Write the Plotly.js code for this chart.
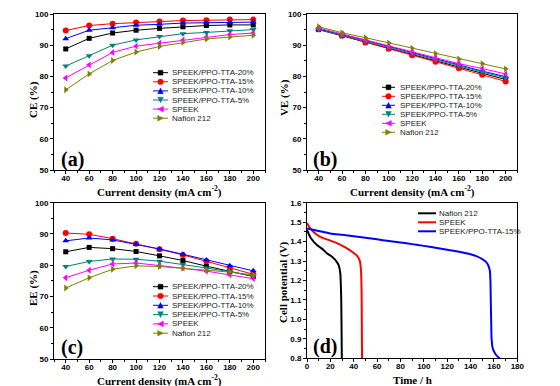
<!DOCTYPE html>
<html>
<head>
<meta charset="utf-8">
<script src="https://cdn.plot.ly/plotly-3.0.1.min.js"></script>
<style>html,body{margin:0;padding:0;background:#fff;}#chart{width:560px;height:386px;}</style>
</head>
<body>
<div id="chart"></div>
<script>
// ---------- DATA ----------
var currentDensity = [40, 60, 80, 100, 120, 140, 160, 180, 200];
var seriesNames = ["SPEEK/PPO-TTA-20%", "SPEEK/PPO-TTA-15%", "SPEEK/PPO-TTA-10%", "SPEEK/PPO-TTA-5%", "SPEEK", "Nafion 212"];

var ce_20 = [88.8, 92.2, 93.9, 94.8, 95.4, 95.9, 96.3, 96.5, 96.5];
var ce_15 = [94.7, 96.3, 96.9, 97.3, 97.6, 97.9, 98.0, 98.2, 98.2];
var ce_10 = [92.1, 94.8, 95.6, 96.4, 96.7, 97.1, 97.2, 97.3, 97.4];
var ce_5 = [83.3, 86.6, 90.0, 91.7, 92.8, 93.7, 94.1, 94.6, 95.0];
var ce_speek = [79.5, 83.7, 87.7, 89.7, 90.6, 91.7, 92.6, 93.4, 93.9];
var ce_nafion = [75.7, 80.8, 85.1, 87.8, 89.6, 90.9, 92.0, 92.6, 93.2];

var ve_20 = [95.0, 93.0, 91.0, 89.0, 87.0, 85.0, 83.0, 81.0, 79.0];
var ve_15 = [95.2, 93.1, 90.9, 88.9, 86.8, 84.7, 82.6, 80.5, 78.4];
var ve_10 = [95.1, 93.4, 91.6, 89.6, 87.7, 85.7, 83.7, 81.7, 79.9];
var ve_5 = [95.0, 93.2, 91.3, 89.3, 87.4, 85.4, 83.4, 81.4, 79.5];
var ve_speek = [95.5, 93.6, 91.7, 89.6, 87.7, 85.8, 84.1, 82.5, 80.8];
var ve_nafion = [95.9, 94.0, 92.4, 90.7, 89.0, 87.3, 85.6, 84.1, 82.4];

var ee_20 = [84.3, 85.7, 85.3, 84.4, 83.0, 81.5, 79.7, 78.0, 76.4];
var ee_15 = [90.3, 89.9, 88.5, 86.9, 85.1, 83.3, 81.3, 79.3, 77.1];
var ee_10 = [87.8, 88.7, 88.1, 86.7, 85.2, 83.5, 81.7, 79.8, 78.2];
var ee_5 = [79.6, 81.2, 82.0, 81.9, 81.3, 80.3, 79.1, 77.9, 76.5];
var ee_speek = [76.0, 78.4, 80.4, 80.7, 79.9, 79.1, 78.1, 76.9, 75.7];
var ee_nafion = [72.7, 76.0, 78.7, 79.8, 79.6, 79.0, 78.5, 77.8, 76.9];

var dischargeNames = ["Nafion 212", "SPEEK", "SPEEK/PPO-TTA-15%"];
var t_nafion = [0, 3.4, 8.5, 12.8, 17, 21.4, 25, 27, 28.5, 29, 29.3, 29.5, 29.8];
var v_nafion = [1.46, 1.417, 1.382, 1.364, 1.34, 1.322, 1.30, 1.28, 1.237, 1.17, 1.10, 1.0, 0.80];
var t_speek = [0, 2.8, 7.1, 12.8, 20, 27, 32.8, 38.5, 42.7, 45, 46.2, 46.7, 46.9, 47.1];
var v_speek = [1.495, 1.468, 1.442, 1.42, 1.405, 1.388, 1.37, 1.348, 1.328, 1.305, 1.254, 1.15, 1.0, 0.80];
var t_ppo15 = [0, 10, 20, 30, 40, 50, 60, 70, 80, 90, 100, 110, 120, 130, 140, 145, 150, 153, 155, 156.5, 157, 157.3, 157.6, 158, 159, 161, 163, 165];
var v_ppo15 = [1.468, 1.455, 1.442, 1.435, 1.428, 1.42, 1.412, 1.403, 1.395, 1.387, 1.378, 1.368, 1.358, 1.348, 1.335, 1.325, 1.31, 1.297, 1.28, 1.25, 1.20, 1.10, 1.0, 0.90, 0.85, 0.825, 0.81, 0.80];

var xTicks = [40, 60, 80, 100, 120, 140, 160, 180, 200];
var effTicks = [50, 60, 70, 80, 90, 100];
var timeTicks = [0, 20, 40, 60, 80, 100, 120, 140, 160, 180];
var vTicks = [0.8, 0.9, 1.0, 1.1, 1.2, 1.3, 1.4, 1.5, 1.6];

// ---------- STYLE ----------
var colors = ["#000000", "#ff0000", "#0000ff", "#008080", "#ff00ff", "#808000"];
var symbols = ["square", "circle", "triangle-up", "triangle-down", "triangle-left", "triangle-right"];
var dColors = ["#000000", "#ff0000", "#0000ff"];

var W = 560, H = 386;
function PX(p){ return p / W; }
function PY(p){ return 1 - p / H; }

var traces = [];
function addEff(arrs, xa, ya){
  arrs.forEach(function(arr, i){
    traces.push({
      x: currentDensity, y: arr, xaxis: xa, yaxis: ya, type: 'scatter', mode: 'lines+markers',
      name: seriesNames[i], showlegend: false, cliponaxis: false,
      line: {color: colors[i], width: 1},
      marker: {color: colors[i], symbol: symbols[i], size: i === 0 ? 5 : 6}
    });
  });
}
addEff([ce_20, ce_15, ce_10, ce_5, ce_speek, ce_nafion], 'x', 'y');
addEff([ve_20, ve_15, ve_10, ve_5, ve_speek, ve_nafion], 'x2', 'y2');
addEff([ee_20, ee_15, ee_10, ee_5, ee_speek, ee_nafion], 'x3', 'y3');
[[t_nafion, v_nafion], [t_speek, v_speek], [t_ppo15, v_ppo15]].forEach(function(s, i){
  traces.push({x: s[0], y: s[1], xaxis: 'x4', yaxis: 'y4', type: 'scatter', mode: 'lines',
    name: dischargeNames[i], showlegend: false, line: {color: dColors[i], width: 2, shape: 'spline', smoothing: 0.6}});
});

var tickFont = {family: 'Liberation Sans, Arial, sans-serif', size: 8, color: '#000', weight: 'bold'};
function axis(domain, range, tickvals, minorD, anchor){
  return {domain: domain, range: range, tickvals: tickvals, ticktext: tickvals.map(function(v){return String(v);}),
    showline: true, linewidth: 1, linecolor: '#000', mirror: true, ticks: 'outside', ticklen: 3, tickwidth: 1,
    tickcolor: '#000', showgrid: false, zeroline: false, tickfont: tickFont, anchor: anchor,
    minor: {dtick: minorD, ticks: 'outside', ticklen: 2, tickcolor: '#000', showgrid: false}};
}
var vTickText = vTicks.map(function(v){ return v.toFixed(1); });

var dxA = [PX(54), PX(265)], dxB = [PX(307), PX(517.3)];
var dyTop = [PY(170), PY(14)], dyBot = [PY(359), PY(202.7)];

var layout = {
  width: W, height: H, margin: {l: 0, r: 0, t: 0, b: 0}, paper_bgcolor: '#fff', plot_bgcolor: '#fff',
  showlegend: false,
  xaxis: axis(dxA, [30, 210], xTicks, 10, 'y'),
  yaxis: axis(dyTop, [50, 100], effTicks, 5, 'x'),
  xaxis2: axis(dxB, [30, 210], xTicks, 10, 'y2'),
  yaxis2: axis(dyTop, [50, 100], effTicks, 5, 'x2'),
  xaxis3: axis(dxA, [30, 210], xTicks, 10, 'y3'),
  yaxis3: axis(dyBot, [50, 100], effTicks, 5, 'x3'),
  xaxis4: axis(dxB, [0, 180], timeTicks, 10, 'y4'),
  yaxis4: axis([PY(358.3), PY(202.7)], [0.8, 1.6], vTicks, 0.05, 'x4'),
  annotations: [], shapes: []
};
layout.yaxis4.ticktext = vTickText;
['xaxis', 'xaxis2', 'xaxis3', 'xaxis4'].forEach(function(k){ layout[k].ticklabelstandoff = -3; });

var serif = 'Liberation Serif, Times New Roman, serif';
function ann(text, x, y, opts){
  var a = {text: text, x: PX(x), y: PY(y), xref: 'paper', yref: 'paper', showarrow: false,
    xanchor: 'center', yanchor: 'middle', font: {family: serif, size: 11, color: '#000', weight: 'bold'}};
  for (var k in opts) a[k] = opts[k];
  layout.annotations.push(a);
}
var xt = 'Current density (mA cm<sup>-2</sup>)';
ann(xt, 159.5, 191); ann(xt, 412, 191); ann(xt, 159.5, 380); ann('Time / h', 412, 380);
ann('CE (%)', 33, 100, {textangle: -90}); ann('VE (%)', 284, 98, {textangle: -90});
ann('EE (%)', 33, 288, {textangle: -90}); ann('Cell potential (V)', 283, 282, {textangle: -90});
var lf = {family: serif, size: 20, color: '#000', weight: 'bold'};
ann('(a)', 72, 160, {font: lf}); ann('(b)', 325, 160, {font: lf});
ann('(c)', 72, 347, {font: lf}); ann('(d)', 325, 346, {font: lf});

// ---------- custom legends ----------
function markerShape(sym, cx, cy, color){
  var s = 2.8;
  var base = {xref: 'paper', yref: 'paper', xsizemode: 'pixel', ysizemode: 'pixel', xanchor: PX(cx), yanchor: PY(cy),
    fillcolor: color, line: {color: color, width: 0.5}};
  var p;
  if (sym === 'circle'){ base.type = 'circle'; base.x0 = -s; base.x1 = s; base.y0 = -s; base.y1 = s; return base; }
  if (sym === 'square') p = 'M-2.4,-2.4H2.4V2.4H-2.4Z';
  if (sym === 'triangle-up') p = 'M0,' + s + 'L' + s + ',-' + s + 'L-' + s + ',-' + s + 'Z';
  if (sym === 'triangle-down') p = 'M0,-' + s + 'L' + s + ',' + s + 'L-' + s + ',' + s + 'Z';
  if (sym === 'triangle-left') p = 'M-' + s + ',0L' + s + ',' + s + 'L' + s + ',-' + s + 'Z';
  if (sym === 'triangle-right') p = 'M' + s + ',0L-' + s + ',' + s + 'L-' + s + ',-' + s + 'Z';
  base.type = 'path'; base.path = p; return base;
}
function legend(names, cols, syms, x0, x1, tx, y0, dy, lw){
  names.forEach(function(n, i){
    var y = y0 + i * dy;
    layout.shapes.push({type: 'line', xref: 'paper', yref: 'paper', x0: PX(x0), x1: PX(x1), y0: PY(y), y1: PY(y),
      line: {color: cols[i], width: lw}});
    if (syms) layout.shapes.push(markerShape(syms[i], (x0 + x1) / 2, y, cols[i]));
    layout.annotations.push({text: n, x: PX(tx), y: PY(y), xref: 'paper', yref: 'paper', showarrow: false,
      xanchor: 'left', yanchor: 'middle', font: {family: 'Liberation Sans, Arial, sans-serif', size: 8, color: '#222'}});
  });
}
legend(seriesNames, colors, symbols, 153, 168, 170, 72.7, 9.1, 1);
legend(seriesNames, colors, symbols, 382, 395, 398, 87.3, 9.0, 1);
legend(seriesNames, colors, symbols, 153, 168, 170, 286.7, 9.3, 1);
legend(dischargeNames, dColors, null, 418, 436, 437, 213.3, 9.0, 2);

Plotly.newPlot('chart', traces, layout, {displayModeBar: false, staticPlot: true});
</script>
</body>
</html>
